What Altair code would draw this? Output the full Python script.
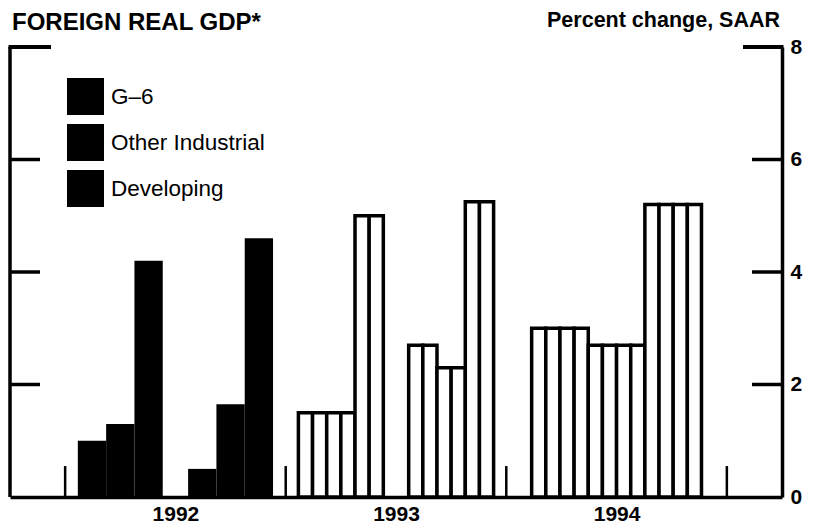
import altair as alt
import pandas as pd

# ---- data ----
series = ["G–6", "Other Industrial", "Developing"]
periods = ["1992 H1", "1992 H2", "1993 H1", "1993 H2", "1994"]
period_start = [1992.0, 1992.5, 1993.0, 1993.5, 1994.0]
period_end = [1992.5, 1993.0, 1993.5, 1994.0, 1995.0]
projected = [False, False, True, True, True]
g6 = [1.0, 0.5, 1.5, 2.7, 3.0]
other_ind = [1.3, 1.65, 1.5, 2.3, 2.7]
developing = [4.2, 4.6, 5.0, 5.25, 5.2]
y_ticks = [0, 2, 4, 6, 8]
year_bounds = [1992, 1993, 1994, 1995]
year_labels_at = [1992.5, 1993.5, 1994.5]
title_text = "FOREIGN REAL GDP*"
unit_text = "Percent change, SAAR"

# ---- layout parameters ----
group_frac = 0.77
cell_w = 0.5 * group_frac / 6
W, H = 772, 450
FONT = "Liberation Sans"

rows = []
for p, s0, s1, proj, vals in zip(periods, period_start, period_end, projected,
                                 zip(g6, other_ind, developing)):
    gw = (s1 - s0) * group_frac
    c = (s0 + s1) / 2
    bw = gw / 3
    for i, (name, v) in enumerate(zip(series, vals)):
        x0 = c - gw / 2 + i * bw
        rows.append(dict(period=p, series=name, value=v, x0=x0, x1=x0 + bw, projected=proj))
bars = pd.DataFrame(rows)
actual = bars[~bars.projected].copy()

cells = []
for r in bars[bars.projected].itertuples():
    n = max(1, round((r.x1 - r.x0) / cell_w))
    w = (r.x1 - r.x0) / n
    for k in range(n):
        cells.append(dict(series=r.series, value=r.value, x0=r.x0 + k * w, x1=r.x0 + (k + 1) * w))
cells = pd.DataFrame(cells)

x_scale = alt.Scale(domain=[1991.75, 1995.25], nice=False, zero=False)
y_scale = alt.Scale(domain=[0, 8], nice=False, zero=True)

x_axis = alt.Axis(values=year_labels_at, labelExpr="format(floor(datum.value), 'd')",
                  title=None, grid=False, ticks=False, tickSize=0, domain=True,
                  domainColor="black", domainWidth=3.5, labelFont=FONT, labelFontSize=21,
                  labelFontWeight="bold", labelColor="black", labelPadding=6, labelFlush=False)
y_axis = alt.Axis(orient="right", values=y_ticks, format="d", title=None, grid=False,
                  ticks=False, tickSize=0, domain=True, domainColor="black", domainWidth=3.5,
                  labelFont=FONT, labelFontSize=21, labelFontWeight="bold",
                  labelColor="black", labelPadding=8, labelFlush=False)

solid = alt.Chart(actual).mark_rect(strokeWidth=0).encode(
    x=alt.X("x0:Q", scale=x_scale, axis=x_axis),
    x2="x1:Q",
    y=alt.Y("value:Q", scale=y_scale, axis=y_axis),
    y2=alt.datum(0),
    fill=alt.Fill("series:N", sort=series,
                  scale=alt.Scale(domain=series, range=["black", "black", "black"]),
                  legend=alt.Legend(title=None, orient="none", legendX=57, legendY=31,
                                    symbolType="square", symbolSize=1369,
                                    symbolStrokeWidth=0, symbolOpacity=1,
                                    labelFont=FONT, labelFontSize=22.5, labelColor="black",
                                    labelOffset=7, rowPadding=9, padding=0, labelLimit=400)),
)

hatched = alt.Chart(cells).mark_rect(fill="white", stroke="black", strokeWidth=3.5).encode(
    x=alt.X("x0:Q", scale=x_scale),
    x2="x1:Q",
    y=alt.Y("value:Q", scale=y_scale),
    y2=alt.datum(0),
)

seps = alt.Chart(pd.DataFrame({"yr": year_bounds})).mark_rule(color="black", strokeWidth=2.5).encode(
    x=alt.X("yr:Q", scale=x_scale),
    y=alt.datum(0),
    y2=alt.datum(0.55),
)

tick_df = pd.DataFrame({"v": [t for t in y_ticks if 0 < t < 8]})
top_df = pd.DataFrame({"v": [8]})
left_ticks = alt.Chart(tick_df).mark_rule(color="black", strokeWidth=3.5).encode(
    y=alt.Y("v:Q", scale=y_scale), x=alt.value(0), x2=alt.value(30))
right_ticks = alt.Chart(tick_df).mark_rule(color="black", strokeWidth=3.5).encode(
    y=alt.Y("v:Q", scale=y_scale), x=alt.value(W - 30), x2=alt.value(W))
left_top = alt.Chart(top_df).mark_rule(color="black", strokeWidth=4).encode(
    y=alt.Y("v:Q", scale=y_scale), x=alt.value(-1.5), x2=alt.value(41))
right_top = alt.Chart(top_df).mark_rule(color="black", strokeWidth=4).encode(
    y=alt.Y("v:Q", scale=y_scale), x=alt.value(W - 39), x2=alt.value(W + 1.5))
left_line = alt.Chart(top_df).mark_rule(color="black", strokeWidth=3.5).encode(
    x=alt.value(0), y=alt.value(0), y2=alt.value(H))

title = alt.Chart(pd.DataFrame({"t": [title_text]})).mark_text(
    align="left", baseline="alphabetic", font=FONT, fontSize=24, fontWeight="bold",
    color="black").encode(x=alt.value(2), y=alt.value(-17), text="t:N")
unit = alt.Chart(pd.DataFrame({"t": [unit_text]})).mark_text(
    align="right", baseline="alphabetic", font=FONT, fontSize=21.5, fontWeight="bold",
    color="black").encode(x=alt.value(770), y=alt.value(-20), text="t:N")

chart = alt.layer(solid, hatched, seps, left_ticks, right_ticks, left_top, right_top,
                  left_line, title, unit).properties(
    width=W, height=H,
    autosize=alt.AutoSizeParams(type="none"),
    padding={"left": 2, "top": 39, "right": 23, "bottom": 27},
    background="white",
).configure_view(stroke=None)

chart.save("out.html", embed_options={"renderer": "svg", "actions": False})
